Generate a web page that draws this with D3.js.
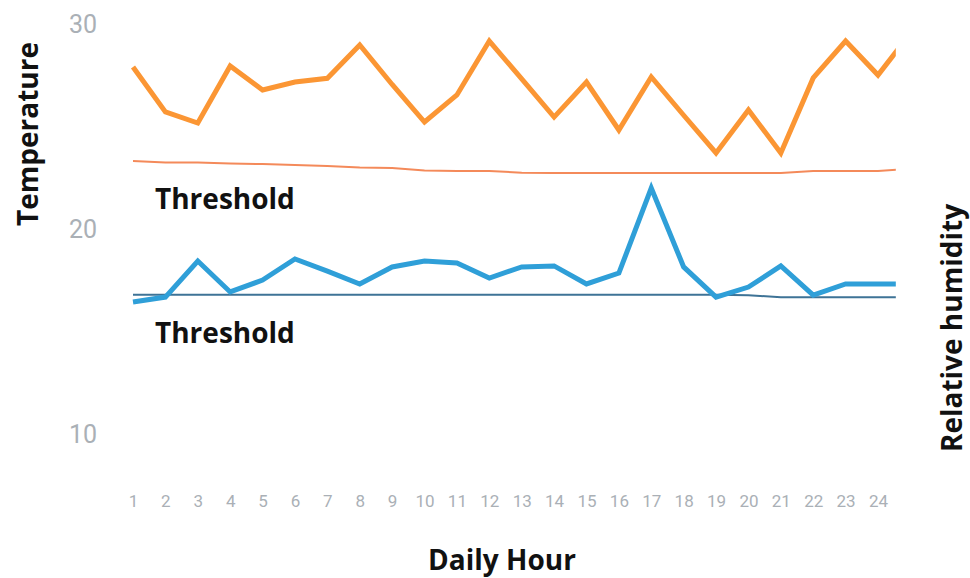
<!DOCTYPE html>
<html>
<head>
<meta charset="utf-8">
<script src="https://cdn.jsdelivr.net/npm/d3@7"></script>
<style>
  body { margin: 0; background: #fff; }
  .tick-label { font-family: Roboto, sans-serif; font-weight: 400; fill: #aab0b6; }
  .title { font-family: "Open Sans", sans-serif; font-weight: 700; fill: #111; }
</style>
</head>
<body>
<div id="chart"></div>
<script>
// hours 1..24 plus the start of hour 25, which is cut off at the right edge
const hours = d3.range(1, 26);
const temperature = [27.85, 25.66, 25.12, 27.9, 26.73, 27.12, 27.3, 28.93, 27.0, 25.17,
  26.49, 29.12, 27.27, 25.41, 27.12, 24.78, 27.37, 25.5, 23.66, 25.76,
  23.66, 27.32, 29.12, 27.46, 29.5];
const tempThreshold = [23.27, 23.2, 23.2, 23.15, 23.12, 23.07, 23.02, 22.95, 22.93, 22.8,
  22.78, 22.78, 22.7, 22.68, 22.68, 22.68, 22.68, 22.68, 22.68, 22.68,
  22.68, 22.78, 22.78, 22.78, 22.88];
const humidity = [16.39, 16.63, 18.39, 16.88, 17.46, 18.49, 17.9, 17.27, 18.1, 18.39,
  18.29, 17.56, 18.1, 18.15, 17.27, 17.8, 21.95, 18.1, 16.63, 17.12,
  18.15, 16.73, 17.27, 17.27, 17.27];
const humThreshold = [16.75, 16.75, 16.75, 16.75, 16.75, 16.75, 16.75, 16.75, 16.75, 16.75,
  16.75, 16.75, 16.75, 16.75, 16.75, 16.75, 16.75, 16.75, 16.75, 16.72,
  16.62, 16.62, 16.62, 16.62, 16.62];
const yTicks = [10, 20, 30];
const xTicks = d3.range(1, 25);

const width = 970, height = 578;

const svg = d3.select("#chart").append("svg")
  .attr("width", width)
  .attr("height", height);

const x = d3.scaleLinear().domain([1, 24]).range([133, 878]);
const y = d3.scaleLinear().domain([10, 30]).range([433, 23]);

svg.append("clipPath").attr("id", "plot-clip")
  .append("rect")
  .attr("x", x(1) - 10).attr("y", 0)
  .attr("width", x(24.55) - x(1) + 10).attr("height", height);

// y axis labels only, no line
const yAxis = svg.append("g")
  .attr("transform", "translate(97,0)")
  .call(d3.axisLeft(y).tickValues(yTicks).tickSize(0).tickPadding(0));
yAxis.select(".domain").remove();
yAxis.selectAll("text")
  .attr("class", "tick-label")
  .attr("font-size", 25)
  .attr("text-anchor", "middle")
  .attr("x", -14)
  .attr("dy", "0.36em");

const xAxis = svg.append("g")
  .attr("transform", "translate(0,501)")
  .call(d3.axisBottom(x).tickValues(xTicks).tickSize(0).tickPadding(0));
xAxis.select(".domain").remove();
xAxis.selectAll("text")
  .attr("class", "tick-label")
  .attr("font-size", 17)
  .attr("dy", "0.36em");

const line = data => d3.line()
  .x((d, i) => x(hours[i]))
  .y(d => y(d))(data);

const plot = svg.append("g").attr("clip-path", "url(#plot-clip)");

plot.append("path")
  .attr("d", line(tempThreshold))
  .attr("fill", "none")
  .attr("stroke", "#f48a5a")
  .attr("stroke-width", 2);

plot.append("path")
  .attr("d", line(humThreshold))
  .attr("fill", "none")
  .attr("stroke", "#3e7396")
  .attr("stroke-width", 2);

plot.append("path")
  .attr("d", line(temperature))
  .attr("fill", "none")
  .attr("stroke", "#fb9634")
  .attr("stroke-width", 5)
  .attr("stroke-linejoin", "miter");

plot.append("path")
  .attr("d", line(humidity))
  .attr("fill", "none")
  .attr("stroke", "#2f9fd8")
  .attr("stroke-width", 5)
  .attr("stroke-linejoin", "miter");

// labels
svg.append("text").attr("class", "title")
  .attr("x", 155).attr("y", 199).attr("dy", "0.35em")
  .attr("font-size", 28)
  .text("Threshold");

svg.append("text").attr("class", "title")
  .attr("x", 155).attr("y", 333).attr("dy", "0.35em")
  .attr("font-size", 28)
  .text("Threshold");

svg.append("text").attr("class", "title")
  .attr("x", 502).attr("y", 560).attr("dy", "0.35em")
  .attr("text-anchor", "middle")
  .attr("font-size", 28)
  .text("Daily Hour");

svg.append("text").attr("class", "title")
  .attr("transform", "translate(28,134) rotate(-90)")
  .attr("dy", "0.35em")
  .attr("text-anchor", "middle")
  .attr("font-size", 28)
  .text("Temperature");

svg.append("text").attr("class", "title")
  .attr("transform", "translate(952,328) rotate(-90)")
  .attr("dy", "0.35em")
  .attr("text-anchor", "middle")
  .attr("font-size", 28)
  .text("Relative humidity");
</script>
</body>
</html>
